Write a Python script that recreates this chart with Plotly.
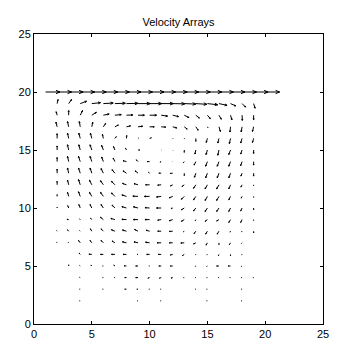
import numpy as np
import plotly.graph_objects as go
import plotly.figure_factory as ff

# Grid (interior columns / rows)
xs = list(range(2, 20))          # x = 2..19
ys = list(range(19, 1, -1))      # y = 19..2 (top to bottom)

# Lid row
lid_x = list(range(1, 21))
lid_y = 20
lid_u = [1.25] * 20
lid_v = [0.0] * 20

U = [
    [0.08,0.25,0.55,0.75,0.85,0.9,1.0,1.05,1.05,1.05,1.05,1.0,0.95,0.9,0.7,0.45,0.3,0.12],
    [-0.08,0,0.2,0.4,0.5,0.55,0.55,0.55,0.6,0.55,0.5,0.4,0.3,0.25,0.2,0.12,0.02,0],
    [-0.1,-0.1,-0.08,0.08,0.2,0.3,0.35,0.4,0.4,0.4,0.35,0.25,0.2,0.05,0.12,-0.05,-0.08,-0.1],
    [0,-0.1,-0.12,-0.12,-0.08,0.12,0.02,0.05,0.15,0,0.03,0.03,0,-0.1,-0.1,-0.1,-0.12,-0.1],
    [0,-0.1,-0.12,-0.15,-0.15,-0.12,-0.08,0.15,0,0.03,0.02,0,-0.08,-0.12,-0.1,-0.15,-0.12,0],
    [0,-0.1,-0.15,-0.15,-0.15,-0.15,-0.3,-0.15,-0.2,-0.1,0.02,-0.08,-0.15,-0.15,-0.15,-0.15,-0.12,0],
    [0,-0.1,-0.15,-0.15,-0.2,-0.25,-0.3,-0.25,-0.1,-0.2,-0.2,0,-0.12,-0.15,-0.15,-0.15,-0.1,0],
    [0,-0.1,-0.15,-0.2,-0.25,-0.3,-0.35,-0.35,-0.35,-0.3,-0.2,-0.2,-0.2,-0.2,-0.2,-0.15,-0.1,0],
    [0,-0.1,-0.15,-0.2,-0.25,-0.3,-0.4,-0.45,-0.45,-0.4,-0.3,-0.25,-0.2,-0.2,-0.2,-0.15,-0.08,0],
    [0,-0.08,-0.12,-0.15,-0.2,-0.25,-0.4,-0.4,-0.4,-0.4,-0.15,-0.25,-0.2,-0.2,-0.2,-0.15,-0.12,0],
    [0,-0.15,-0.05,-0.1,-0.25,-0.35,-0.4,-0.4,-0.4,-0.3,-0.3,-0.25,-0.05,-0.2,-0.2,-0.15,-0.12,0],
    [-0.05,-0.1,-0.05,-0.12,-0.2,-0.3,-0.35,-0.3,-0.3,-0.3,-0.3,-0.08,-0.15,-0.15,-0.15,-0.05,-0.05,0],
    [-0.05,-0.05,-0.15,-0.15,-0.2,-0.25,-0.35,-0.35,-0.35,-0.35,-0.3,-0.3,-0.2,-0.12,0,-0.1,-0.05,0],
    [0,0,-0.1,-0.25,-0.25,-0.3,-0.3,-0.08,-0.25,-0.25,-0.2,-0.15,-0.05,-0.05,-0.05,0,-0.05,0],
    [0,0,-0.05,-0.08,-0.06,-0.1,-0.2,-0.2,-0.06,-0.2,-0.2,0,-0.06,-0.06,-0.2,-0.2,-0.06,0],
    [0,0,-0.06,0,-0.06,-0.06,-0.15,-0.2,-0.15,-0.15,-0.15,-0.06,-0.06,-0.06,-0.06,-0.06,-0.06,-0.06],
    [0,0,-0.06,0,-0.06,0,-0.15,-0.1,-0.06,-0.06,0,0,-0.06,-0.06,0,0,-0.06,0],
    [0,0,-0.06,0,0,0,0,-0.06,0,-0.06,0,0,0,-0.06,0,0,-0.06,0],
]
V = [
    [0.35,0.35,0.2,0.08,0.05,0.03,0.02,0,0,0,-0.02,-0.04,-0.06,-0.1,-0.15,-0.2,-0.3,-0.4],
    [0.3,0.4,0.4,0.25,0.1,0.05,0.02,0,0,-0.08,-0.12,-0.2,-0.25,-0.3,-0.35,-0.4,-0.45,-0.4],
    [0.4,0.45,0.45,0.4,0.3,0.15,0.08,0.05,0,-0.03,-0.1,-0.2,-0.3,-0.08,-0.4,-0.45,-0.45,-0.4],
    [0.4,0.45,0.45,0.45,0.35,0.15,0.25,0.03,0.05,0,-0.03,-0.05,-0.25,-0.35,-0.4,-0.45,-0.4,-0.35],
    [0.35,0.45,0.45,0.45,0.4,0.3,0.15,0,0,0,-0.03,-0.2,-0.35,-0.4,-0.45,-0.4,-0.35,-0.3],
    [0.35,0.45,0.45,0.45,0.4,0.3,0.08,0.15,0,-0.05,-0.02,-0.1,-0.3,-0.4,-0.4,-0.4,-0.35,-0.3],
    [0.35,0.45,0.45,0.45,0.4,0.3,0.2,0.2,0.08,0,-0.02,-0.2,-0.35,-0.4,-0.4,-0.4,-0.25,-0.25],
    [0.3,0.4,0.45,0.4,0.35,0.3,0.12,0.1,0,-0.03,-0.1,-0.15,-0.3,-0.35,-0.35,-0.35,-0.2,-0.08],
    [0.15,0.35,0.4,0.35,0.35,0.3,0.12,0.02,0,-0.05,-0.12,-0.25,-0.3,-0.35,-0.35,-0.3,-0.15,-0.08],
    [0.08,0.2,0.3,0.3,0.3,0.25,0.12,0.1,0.03,0,-0.05,-0.15,-0.25,-0.3,-0.3,-0.3,-0.25,-0.15],
    [0,0.02,0.06,0.12,0.2,0.1,0.02,0,0,-0.05,-0.1,-0.15,-0.1,-0.15,-0.12,-0.25,-0.25,-0.08],
    [0.05,0.12,0.05,0.2,0.2,0.12,0.1,0.15,0.08,0,-0.02,-0.05,-0.2,-0.25,-0.25,-0.08,-0.06,-0.15],
    [0.05,0.05,0.2,0.2,0.2,0.15,0.08,0.08,0.05,0,0,-0.02,-0.1,-0.2,-0.15,-0.15,-0.05,0],
    [0,0,0.12,0.02,0,0,0,0,0,0,-0.05,-0.1,-0.05,-0.05,-0.12,-0.12,-0.05,0],
    [0,0.1,0.04,0.08,0,0.08,0.02,0,0,0,0,0,-0.03,-0.03,0,0,-0.03,0],
    [0,0,0.02,0,0,0,0,0,-0.05,-0.05,-0.05,0,0,0,0,0,0,0],
    [0,0,0,0,0,0,0,0,0,0,0,0,0,0,0,0,0,0],
    [0,0,0,0,0,0,0,0,0,0,0,0,0,0,0,0,0,0],
]

X, Y = np.meshgrid(xs, ys)
x_all = np.concatenate([X.ravel(), np.array(lid_x, float)])
y_all = np.concatenate([Y.ravel(), np.full(len(lid_x), lid_y, float)])
u_all = np.concatenate([np.array(U, float).ravel(), np.array(lid_u, float)])
v_all = np.concatenate([np.array(V, float).ravel(), np.array(lid_v, float)])

fig = ff.create_quiver(x_all, y_all, u_all, v_all, scale=1, arrow_scale=0.3,
                       angle=np.pi / 8, line=dict(color='black', width=1))
fig.update_traces(hoverinfo='skip', showlegend=False)

font = dict(family='Liberation Sans, Arial, sans-serif', size=11, color='black')
axis = dict(range=[0, 25], tickvals=[0, 5, 10, 15, 20, 25], ticks='inside', ticklen=3,
            tickcolor='black', showline=True, linecolor='black', linewidth=1,
            mirror='ticks', showgrid=False, zeroline=False, tickfont=font)

fig.update_layout(
    width=344, height=356,
    margin=dict(l=34, r=21, t=34, b=32),
    plot_bgcolor='white', paper_bgcolor='white',
    showlegend=False,
    title=dict(text='Velocity Arrays', x=178.5 / 344, xanchor='center',
               y=1 - 22.5 / 356, yanchor='middle', font=font),
    xaxis=axis, yaxis=axis,
)
fig.write_html("out.html")
